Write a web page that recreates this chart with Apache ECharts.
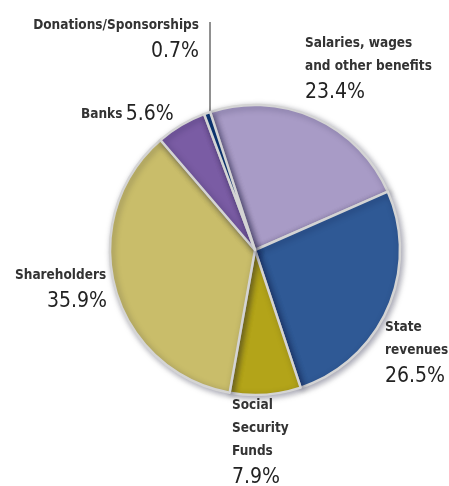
<!DOCTYPE html>
<html><head><meta charset="utf-8">
<script src="https://cdn.jsdelivr.net/npm/echarts@6/dist/echarts.min.js"></script>
<style>html,body{margin:0;padding:0;background:#fff}#c{width:449px;height:486px}</style>
</head><body><div id="c"></div>
<script>
const categories = ['Salaries, wages\nand other benefits', 'State\nrevenues', 'Social\nSecurity\nFunds', 'Shareholders', 'Banks', 'Donations/Sponsorships'];
const values = [23.4, 26.5, 7.9, 35.9, 5.6, 0.7];
const colors = ['#a89bc6', '#2f5995', '#b3a419', '#c9bd6a', '#7a5ca4', '#0d3b7a'];

const FONT = '"DejaVu Sans Condensed", "Liberation Sans Narrow", sans-serif';
const labelSpots = [
  {x: 305, y: 32, align: 'left'},
  {x: 385, y: 316, align: 'left'},
  {x: 232, y: 394, align: 'left'},
  {x: 15, y: 264, align: 'left'},
  {x: 81, y: 100, align: 'left'},
  {x: 199, y: 14, align: 'right'}
];
const chart = echarts.init(document.getElementById('c'));
chart.setOption({
  animation: false,
  color: colors,
  series: [{
    type: 'pie',
    center: [255, 250],
    radius: [0, 145],
    startAngle: 108,
    clockwise: true,
    data: categories.map((n, i) => ({name: n, value: values[i]})),
    itemStyle: {borderColor: '#d4d4d4', borderWidth: 2.5, shadowBlur: 6, shadowColor: 'rgba(0,0,40,0.35)', shadowOffsetX: 2, shadowOffsetY: 2},
    label: {
      show: true,
      position: 'outside',
      overflow: 'none',
      fontFamily: FONT,
      formatter: p => {
        const pct = p.value.toFixed(1) + '%';
        if (p.dataIndex === 4) return '{n|Banks} {v|' + pct + '}';
        if (p.dataIndex === 3) return '{n|' + p.name + '}\n{vr|' + pct + '}';
        if (p.dataIndex === 5) return '{n|' + p.name + '}\n{v|' + pct + '}';
        return '{n|' + p.name.split('\n').join('}\n{n|') + '}\n{v|' + pct + '}';
      },
      rich: {
        n: {fontFamily: FONT, fontSize: 13.5, fontWeight: 'bold', color: '#333', lineHeight: 23},
        v: {fontFamily: FONT, fontSize: 21, color: '#222', lineHeight: 29},
        vr: {fontFamily: FONT, fontSize: 21, color: '#222', lineHeight: 29, padding: [0, 0, 0, 32]}
      }
    },
    labelLine: {show: false},
    labelLayout: p => Object.assign({verticalAlign: 'top'}, labelSpots[p.dataIndex])
  }],
  graphic: [{type: 'line', shape: {x1: 210, y1: 22, x2: 210, y2: 113}, style: {stroke: '#222', lineWidth: 1}}]
});
</script></body></html>
